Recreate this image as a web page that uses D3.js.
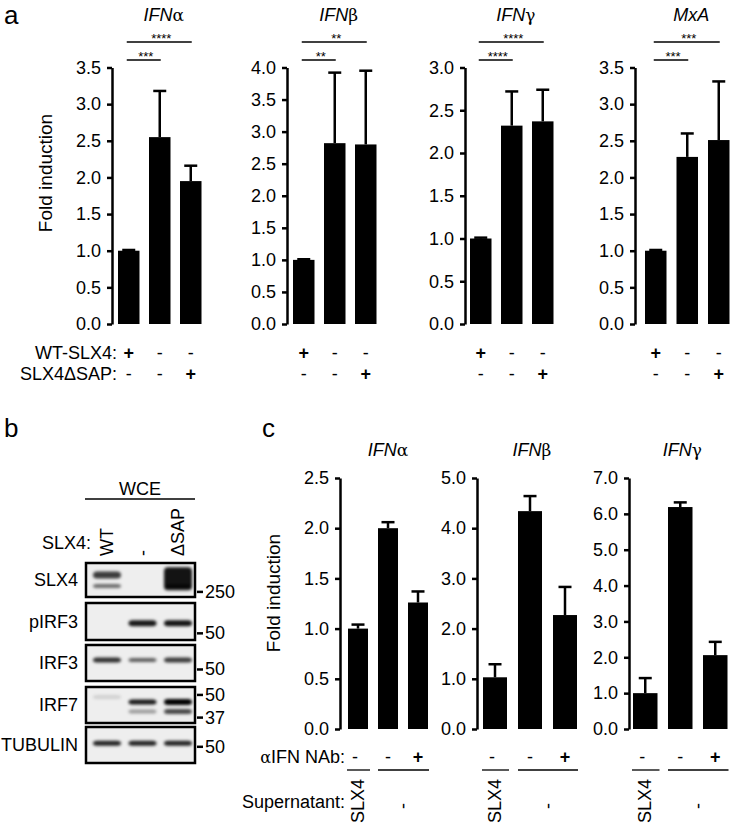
<!DOCTYPE html>
<html><head><meta charset="utf-8">
<script src="https://cdn.jsdelivr.net/npm/d3@7"></script>
<style>
body{margin:0;background:#fff;}
svg{display:block;font-family:"Liberation Sans",Arial,sans-serif;}
</style></head>
<body>
<svg id="chart" width="731" height="832"></svg>
<script>
// ---------- DATA ----------
// Panel a
const aGenes = [["IFN","α"],["IFN","β"],["IFN","γ"],["MxA",""]];
const aGroups = [0,1,2];
const aMax = [3.5, 4.0, 3.0, 3.5];
const aTickStep = [0.5, 0.5, 0.5, 0.5];
const aMeans = [[1.0,2.55,1.95],[1.0,2.82,2.80],[1.0,2.32,2.37],[1.0,2.28,2.51]];
const aErr = [[0.01,0.63,0.21],[0.01,1.10,1.15],[0.01,0.40,0.37],[0.01,0.32,0.80]];
const aSigShort = ["***","**","****","***"];
const aSigLong = ["****","**","****","***"];
const aRowNames = ["WT-SLX4:","SLX4\u0394SAP:"];
const aWT = ["+","-","-"];
const aDSAP = ["-","-","+"];
// Panel b
const bLanes = ["WT","-","\u0394SAP"];
const bRows = ["SLX4","pIRF3","IRF3","IRF7","TUBULIN"];
const bBands = [ // row, lane, rel. position in row, intensity, thickness
  {row:0,lane:0,p:0.35,v:0.75,h:7},{row:0,lane:0,p:0.68,v:0.55,h:4},
  {row:0,lane:2,p:0.45,v:0.92,h:22},{row:0,lane:2,p:0.72,v:0.7,h:6},
  {row:1,lane:1,p:0.55,v:0.9,h:6},{row:1,lane:2,p:0.55,v:0.92,h:6},
  {row:2,lane:0,p:0.42,v:0.8,h:5},{row:2,lane:1,p:0.42,v:0.6,h:4},{row:2,lane:2,p:0.42,v:0.75,h:5},
  {row:3,lane:0,p:0.28,v:0.12,h:4},{row:3,lane:1,p:0.42,v:0.9,h:5},{row:3,lane:1,p:0.68,v:0.35,h:4},
  {row:3,lane:2,p:0.42,v:1.0,h:6},{row:3,lane:2,p:0.68,v:0.7,h:5},
  {row:4,lane:0,p:0.45,v:0.85,h:5},{row:4,lane:1,p:0.45,v:0.85,h:5},{row:4,lane:2,p:0.45,v:0.85,h:5}
];
const bMarkers = [{row:0,label:"250",p:0.85},{row:1,label:"50",p:0.82},{row:2,label:"50",p:0.68},
  {row:3,label:"50",p:0.22},{row:3,label:"37",p:0.85},{row:4,label:"50",p:0.55}];
// Panel c
const cGenes = [["IFN","α"],["IFN","β"],["IFN","γ"]];
const cMax = [2.5, 5.0, 7.0];
const cTickStep = [0.5, 1.0, 1.0];
const cMeans = [[1.0,2.0,1.26],[1.03,4.34,2.27],[1.0,6.19,2.06]];
const cErr = [[0.04,0.06,0.11],[0.26,0.30,0.56],[0.42,0.13,0.37]];
const cNAb = ["-","-","+"];
const cSuper = ["SLX4","-"];

// ---------- LAYOUT ----------
const svg = d3.select("#chart");
const FONT = 18;
const aAxisX = [112, 287, 465, 635];
const aBarStart = [118, 293, 470, 645];
const aStep = [31, 31, 31, 31.5];
const aBarW = 21.5;
const aY0 = 324, aY1 = 67.5;

svg.append("text").attr("x",4).attr("y",24).attr("font-size",26).text("a");
svg.append("text").attr("x",4).attr("y",437).attr("font-size",26).text("b");
svg.append("text").attr("x",262).attr("y",437).attr("font-size",26).text("c");

function title(g, x, y, parts){
  const t = g.append("text").attr("x",x).attr("y",y).attr("text-anchor","middle").attr("font-size",18);
  t.append("tspan").attr("font-style","italic").text(parts[0]);
  if(parts[1]) t.append("tspan").attr("font-family","DejaVu Serif, serif").attr("font-size",17).text(parts[1]);
}

function barChart(g, opt){
  const y = d3.scaleLinear().domain([0,opt.max]).range([opt.y0,opt.y1]);
  const x = d3.scaleBand().domain(aGroups)
    .range([opt.barStart, opt.barStart + opt.step*(3-opt.pad)]).paddingInner(opt.pad).paddingOuter(0);
  const ticks = d3.range(0, opt.max + 1e-9, opt.tickStep);
  const ax = g.append("g").attr("transform",`translate(${opt.axisX},0)`)
    .call(d3.axisLeft(y).tickValues(ticks).tickFormat(d3.format(".1f")).tickSize(5).tickSizeOuter(0).tickPadding(6));
  ax.select(".domain").attr("stroke-width",2.5);
  ax.selectAll(".tick line").attr("stroke-width",2.5);
  ax.selectAll(".tick text").attr("font-size",FONT).attr("font-family","Liberation Sans, Arial, sans-serif").attr("fill","#000");
  g.selectAll("rect.bar").data(opt.means).join("rect").attr("class","bar")
    .attr("x",(d,i)=>x(i)).attr("width",x.bandwidth())
    .attr("y",d=>y(d)).attr("height",d=>opt.y0 - y(d)).attr("fill","#000");
  opt.means.forEach((m,i)=>{
    const cx = x(i)+x.bandwidth()/2, top = y(m+opt.err[i]);
    g.append("line").attr("x1",cx).attr("x2",cx).attr("y1",y(m)).attr("y2",top).attr("stroke","#000").attr("stroke-width",2.5);
    g.append("line").attr("x1",cx-opt.cap/2).attr("x2",cx+opt.cap/2).attr("y1",top).attr("y2",top).attr("stroke","#000").attr("stroke-width",2.5);
  });
  return {x,y};
}

// ---------- PANEL a ----------
aMeans.forEach((means,k)=>{
  const g = svg.append("g");
  const {x} = barChart(g,{max:aMax[k],tickStep:aTickStep[k],means,err:aErr[k],axisX:aAxisX[k],
    barStart:aBarStart[k],step:aStep[k],pad:1-aBarW/aStep[k],y0:aY0,y1:aY1,cap:13});
  const c = i => x(i)+x.bandwidth()/2;
  title(g, c(1)+4, 21, aGenes[k]);
  const sig = [[c(0)-2, c(1)+1, 60, aSigShort[k]],[c(0)-2, c(2)+1, 42, aSigLong[k]]];
  sig.forEach(s=>{
    g.append("line").attr("x1",s[0]).attr("x2",s[1]).attr("y1",s[2]).attr("y2",s[2]).attr("stroke","#000").attr("stroke-width",1.5);
    g.append("text").attr("x",(s[0]+s[1])/2+2).attr("y",s[2]+1).attr("text-anchor","middle").attr("font-size",13).text(s[3]);
  });
  [aWT,aDSAP].forEach((row,r)=>{
    g.selectAll(null).data(row).join("text").attr("x",(d,i)=>c(i)).attr("y",[359,380][r])
      .attr("text-anchor","middle").attr("font-size",FONT).attr("font-weight",d=>d==="+"?"bold":"normal").text(d=>d);
  });
});
aRowNames.forEach((n,r)=>svg.append("text").attr("x",117).attr("y",[359,380][r]).attr("text-anchor","end").attr("font-size",FONT).text(n));
svg.append("text").attr("transform","translate(52,173) rotate(-90)").attr("text-anchor","middle").attr("font-size",19).text("Fold induction");

// ---------- PANEL b ----------
const defs = svg.append("defs");
defs.append("filter").attr("id","blur").attr("x","-30%").attr("y","-100%").attr("width","160%").attr("height","300%")
  .append("feGaussianBlur").attr("stdDeviation",1.8);
const bg = svg.append("g");
const boxX0 = 86, boxX1 = 195;
const rowY = [[563,597],[603,640],[645,681],[687,723],[727,763]];
const laneX = d3.scalePoint().domain(d3.range(bLanes.length)).range([107,178]);
bg.append("text").attr("x",140).attr("y",495).attr("text-anchor","middle").attr("font-size",FONT).text("WCE");
bg.append("line").attr("x1",85).attr("x2",195).attr("y1",499).attr("y2",499).attr("stroke","#000").attr("stroke-width",1.3);
bg.append("text").attr("x",91).attr("y",549).attr("text-anchor","end").attr("font-size",FONT).text("SLX4:");
bLanes.forEach((l,i)=>{
  bg.append("text").attr("transform",`translate(${laneX(i)+6},556) rotate(-90)`).attr("font-size",FONT).text(l);
});
bRows.forEach((r,i)=>{
  const [y0,y1] = rowY[i];
  bg.append("rect").attr("x",boxX0).attr("y",y0).attr("width",boxX1-boxX0).attr("height",y1-y0)
    .attr("fill","#eeeeee").attr("stroke","#000").attr("stroke-width",2.5);
  bg.append("text").attr("x",78).attr("y",(y0+y1)/2+6).attr("text-anchor","end").attr("font-size",FONT).text(r);
});
const bandG = bg.append("g").attr("filter","url(#blur)");
bBands.forEach(b=>{
  const [y0,y1] = rowY[b.row];
  const cy = y0 + (y1-y0)*b.p;
  bandG.append("rect").attr("x",laneX(b.lane)-14).attr("width",28).attr("y",cy-b.h/2).attr("height",b.h)
    .attr("rx",4).attr("fill","#000").attr("opacity",b.v);
});
bMarkers.forEach(m=>{
  const [y0,y1] = rowY[m.row];
  const cy = y0 + (y1-y0)*m.p;
  bg.append("line").attr("x1",197).attr("x2",203).attr("y1",cy).attr("y2",cy).attr("stroke","#000").attr("stroke-width",2.5);
  bg.append("text").attr("x",205).attr("y",cy+6).attr("font-size",FONT).text(m.label);
});

// ---------- PANEL c ----------
const cAxisX = [340, 477, 629];
const cBarStart = [348, 483, 633];
const cStep = [30, 35, 35];
const cBarW = [20, 24, 24.5];
const cY0 = 729, cY1 = 478;
cMeans.forEach((means,k)=>{
  const g = svg.append("g");
  const {x} = barChart(g,{max:cMax[k],tickStep:cTickStep[k],means,err:cErr[k],axisX:cAxisX[k],
    barStart:cBarStart[k],step:cStep[k],pad:1-cBarW[k]/cStep[k],y0:cY0,y1:cY1,cap:13});
  const c = i => x(i)+x.bandwidth()/2;
  title(g, c(1)+(k===0?0:2), 456, cGenes[k]);
  g.selectAll(null).data(cNAb).join("text").attr("x",(d,i)=>c(i)+(i===0?-3:0)).attr("y",763)
    .attr("text-anchor","middle").attr("font-size",FONT).attr("font-weight",d=>d==="+"?"bold":"normal").text(d=>d);
  g.append("line").attr("x1",x(0)-1).attr("x2",x(0)+x.bandwidth()+2).attr("y1",770).attr("y2",770).attr("stroke","#000").attr("stroke-width",1.3);
  g.append("line").attr("x1",x(1)).attr("x2",Math.min(731,x(2)+x.bandwidth()+1)).attr("y1",770).attr("y2",770).attr("stroke","#000").attr("stroke-width",1.3);
  g.append("text").attr("transform",`translate(${c(0)+6},823) rotate(-90)`).attr("font-size",FONT).text(cSuper[0]);
  g.append("text").attr("transform",`translate(${(c(1)+c(2))/2+6},806) rotate(-90)`).attr("text-anchor","middle").attr("font-size",FONT).text(cSuper[1]);
});
const nab = svg.append("text").attr("x",345).attr("y",763).attr("text-anchor","end").attr("font-size",FONT);
nab.append("tspan").attr("font-family","DejaVu Serif, serif").attr("font-size",16).text("\u03B1");
nab.append("tspan").text("IFN NAb:");
svg.append("text").attr("x",345).attr("y",808).attr("text-anchor","end").attr("font-size",FONT).text("Supernatant:");
svg.append("text").attr("transform","translate(280,593) rotate(-90)").attr("text-anchor","middle").attr("font-size",19).text("Fold induction");
</script>
</body></html>
